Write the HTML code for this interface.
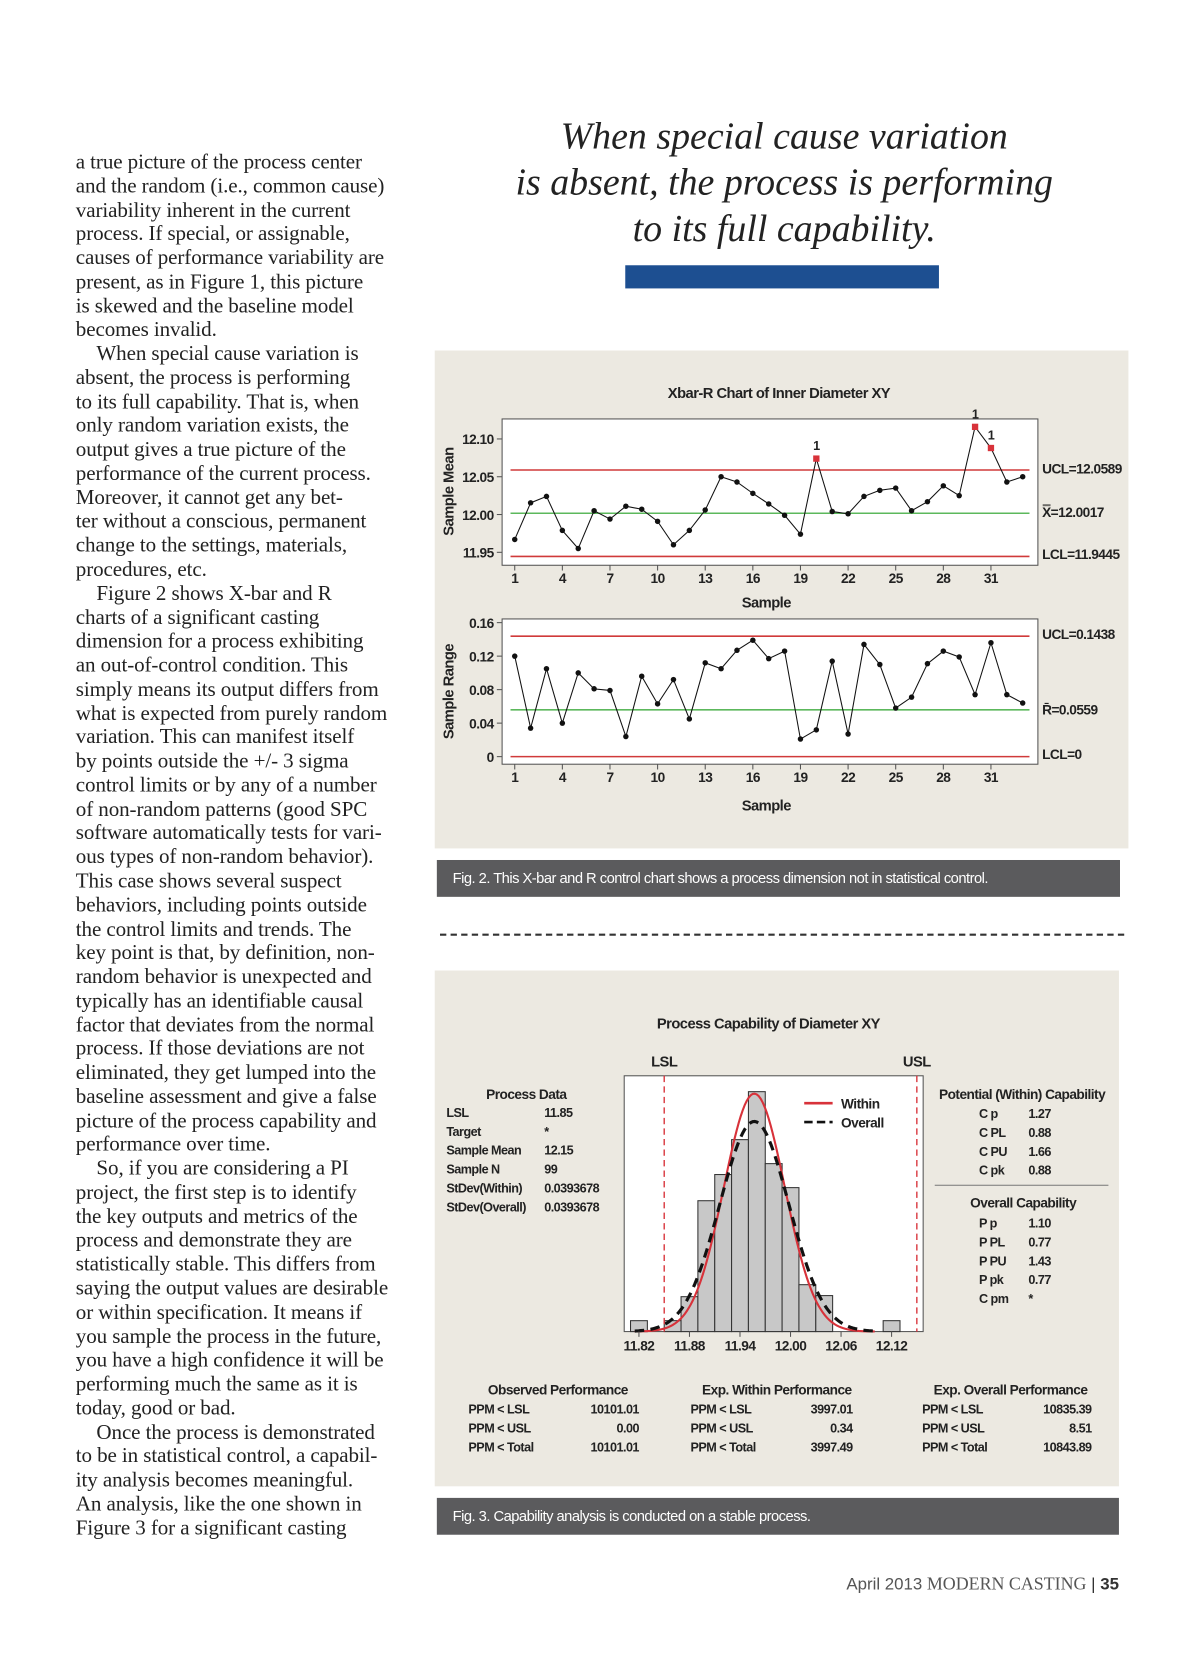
<!DOCTYPE html>
<html><head><meta charset="utf-8">
<style>
html,body{margin:0;padding:0;background:#fff;width:1200px;height:1657px;overflow:hidden}
#page{position:absolute;left:0;top:0;width:1140px;height:1574px;transform:scale(1.05263);transform-origin:0 0;background:#fff}
.col{position:absolute;left:72px;top:143px;font-family:"Liberation Serif",serif;font-size:20px;line-height:22.77px;color:#222;white-space:nowrap;letter-spacing:-0.1px}
.quote{position:absolute;left:450px;width:590px;top:107px;text-align:center;font-family:"Liberation Serif",serif;font-style:italic;font-size:36px;line-height:44px;color:#222}
.cap{position:absolute;background:#5b5b5d;color:#fff;font-family:"Liberation Sans Narrow","Liberation Sans",sans-serif;font-size:14px;letter-spacing:-0.5px;line-height:35px;padding-left:15px;box-sizing:border-box}
svg text{font-family:"Liberation Sans Narrow","Liberation Sans",sans-serif;font-weight:bold;fill:#222;letter-spacing:-0.5px}
</style></head><body>
<div id="page">
<div class="col">
<div>a true picture of the process center</div>
<div>and the random (i.e., common cause)</div>
<div>variability inherent in the current</div>
<div>process. If special, or assignable,</div>
<div>causes of performance variability are</div>
<div>present, as in Figure 1, this picture</div>
<div>is skewed and the baseline model</div>
<div>becomes invalid.</div>
<div>&nbsp;&nbsp;&nbsp;&nbsp;When special cause variation is</div>
<div>absent, the process is performing</div>
<div>to its full capability. That is, when</div>
<div>only random variation exists, the</div>
<div>output gives a true picture of the</div>
<div>performance of the current process.</div>
<div>Moreover, it cannot get any bet-</div>
<div>ter without a conscious, permanent</div>
<div>change to the settings, materials,</div>
<div>procedures, etc.</div>
<div>&nbsp;&nbsp;&nbsp;&nbsp;Figure 2 shows X-bar and R</div>
<div>charts of a significant casting</div>
<div>dimension for a process exhibiting</div>
<div>an out-of-control condition. This</div>
<div>simply means its output differs from</div>
<div>what is expected from purely random</div>
<div>variation. This can manifest itself</div>
<div>by points outside the +/- 3 sigma</div>
<div>control limits or by any of a number</div>
<div>of non-random patterns (good SPC</div>
<div>software automatically tests for vari-</div>
<div>ous types of non-random behavior).</div>
<div>This case shows several suspect</div>
<div>behaviors, including points outside</div>
<div>the control limits and trends. The</div>
<div>key point is that, by definition, non-</div>
<div>random behavior is unexpected and</div>
<div>typically has an identifiable causal</div>
<div>factor that deviates from the normal</div>
<div>process. If those deviations are not</div>
<div>eliminated, they get lumped into the</div>
<div>baseline assessment and give a false</div>
<div>picture of the process capability and</div>
<div>performance over time.</div>
<div>&nbsp;&nbsp;&nbsp;&nbsp;So, if you are considering a PI</div>
<div>project, the first step is to identify</div>
<div>the key outputs and metrics of the</div>
<div>process and demonstrate they are</div>
<div>statistically stable. This differs from</div>
<div>saying the output values are desirable</div>
<div>or within specification. It means if</div>
<div>you sample the process in the future,</div>
<div>you have a high confidence it will be</div>
<div>performing much the same as it is</div>
<div>today, good or bad.</div>
<div>&nbsp;&nbsp;&nbsp;&nbsp;Once the process is demonstrated</div>
<div>to be in statistical control, a capabil-</div>
<div>ity analysis becomes meaningful.</div>
<div>An analysis, like the one shown in</div>
<div>Figure 3 for a significant casting</div>
</div>
<div class="quote">When special cause variation<br>is absent, the process is performing<br>to its full capability.</div>
<div style="position:absolute;left:594px;top:252px;width:298px;height:22px;background:#1d4f91"></div>

<div style="position:absolute;left:413px;top:333px;width:659px;height:473px;background:#ece9e1"></div>
<div class="cap" style="left:415px;top:817px;width:649px;height:35px">Fig. 2. This X-bar and R control chart shows a process dimension not in statistical control.</div>
<div style="position:absolute;left:418px;top:887px;width:650px;border-top:2px dashed #333"></div>
<div style="position:absolute;left:413px;top:922px;width:650px;height:490px;background:#ece9e1"></div>
<div class="cap" style="left:415px;top:1423px;width:648px;height:35px">Fig. 3. Capability analysis is conducted on a stable process.</div>

<div style="position:absolute;right:77px;top:1495px;font-family:'Liberation Sans',sans-serif;font-size:16px;color:#555;white-space:nowrap">April 2013 <span style="font-family:'Liberation Serif',serif;font-size:17px">MODERN CASTING</span> <span style="color:#333">|</span> <b style="color:#333">35</b></div>

<svg id="chart" width="1140" height="1574" style="position:absolute;left:0;top:0"></svg>
</div>
<script>
const samples=[1,2,3,4,5,6,7,8,9,10,11,12,13,14,15,16,17,18,19,20,21,22,23,24,25,26,27,28,29,30,31,32,33];
const xbarValues=[11.967,12.0155,12.024,11.979,11.955,12.005,11.994,12.011,12.007,11.991,11.960,11.979,12.006,12.050,12.043,12.028,12.014,11.999,11.974,12.074,12.004,12.001,12.024,12.032,12.035,12.005,12.017,12.038,12.025,12.116,12.088,12.043,12.050];
const rangeValues=[0.120,0.034,0.105,0.040,0.100,0.081,0.079,0.024,0.096,0.063,0.092,0.045,0.112,0.105,0.127,0.139,0.117,0.126,0.021,0.032,0.114,0.027,0.134,0.110,0.058,0.071,0.111,0.126,0.119,0.074,0.136,0.074,0.064];
const xTicks=[1,4,7,10,13,16,19,22,25,28,31];
const xbarTicks=[11.95,12.00,12.05,12.10];
const rangeTicks=[0,0.04,0.08,0.12,0.16];
const xbarLimits=[12.0589,12.0017,11.9445];
const rangeLimits=[0.1438,0.0559,0];
const histCenters=[11.82,11.86,11.88,11.90,11.92,11.94,11.96,11.98,12.00,12.02,12.04,12.12];
const histCounts=[1,1,3.2,12,14.4,17.6,22,15.4,13.2,4.3,3.3,1];
const histTicks=[11.82,11.88,11.94,12.00,12.06,12.12];
const specLimits=[11.85,12.15];
const curveParams=[11.957,0.0362,0.041];

const S=document.getElementById('chart');const NS='http://www.w3.org/2000/svg';
function el(t,a,txt){const e=document.createElementNS(NS,t);for(const k in a)e.setAttribute(k,a[k]);if(txt!==undefined)e.textContent=txt;S.appendChild(e);return e;}
function tx(x,y,s,size,anchor,name,fill){const e=el('text',{x:x,y:y,'font-size':size,'text-anchor':anchor||'start',fill:fill||'#222'},s);

return e;}
const sx=s=>489+(s-1)*15.08;
const yX=v=>417+(12.10-v)/0.15*107.7;
const yR=v=>718.8-v/0.16*127.3;
function frame(y0,y1,name){const r=el('rect',{x:477,y:y0,width:509,height:y1-y0,fill:'#fff',stroke:'#555','stroke-width':1});

}
tx(740,378,'Xbar-R Chart of Inner Diameter XY',14,'middle','xbar-chart-title');
frame(398,537,'xbar-plot-area');frame(588,726,'range-plot-area');
function hline(y,c,name){const l=el('line',{x1:485,x2:978,y1:y,y2:y,stroke:c,'stroke-width':1.5});

}
hline(yX(xbarLimits[0]),'#d03a3a','xbar-ucl-line');hline(yX(xbarLimits[1]),'#5cb85c','xbar-center-line');hline(yX(xbarLimits[2]),'#d03a3a','xbar-lcl-line');
hline(yR(rangeLimits[0]),'#d03a3a','range-ucl-line');hline(yR(rangeLimits[1]),'#5cb85c','range-center-line');hline(yR(rangeLimits[2]),'#d03a3a','range-lcl-line');
xbarTicks.forEach(v=>{el('line',{x1:472,x2:477,y1:yX(v),y2:yX(v),stroke:'#555'});tx(469,yX(v)+5,v.toFixed(2),13,'end','xbar-y-tick');});
rangeTicks.forEach(v=>{el('line',{x1:472,x2:477,y1:yR(v),y2:yR(v),stroke:'#555'});tx(469,yR(v)+5,v===0?'0':v.toFixed(2),13,'end','range-y-tick');});
xTicks.forEach(s=>{el('line',{x1:sx(s),x2:sx(s),y1:537,y2:542,stroke:'#555'});tx(sx(s),554,String(s),13,'middle','xbar-x-tick');
el('line',{x1:sx(s),x2:sx(s),y1:726,y2:731,stroke:'#555'});tx(sx(s),743,String(s),13,'middle','range-x-tick');});
tx(728,577,'Sample',14,'middle','xbar-x-axis-title');tx(728,770,'Sample',14,'middle','range-x-axis-title');
let t=tx(0,0,'Sample Mean',14,'middle','xbar-y-axis-title');t.setAttribute('transform','translate(431,467) rotate(-90)');
t=tx(0,0,'Sample Range',14,'middle','range-y-axis-title');t.setAttribute('transform','translate(431,657) rotate(-90)');
tx(990,450,'UCL=12.0589',13,'start','xbar-ucl-label');tx(990,491,'X\u033F=12.0017',13,'start','xbar-mean-label');tx(990,531,'LCL=11.9445',13,'start','xbar-lcl-label');
tx(990,607,'UCL=0.1438',13,'start','range-ucl-label');tx(990,679,'R\u0304=0.0559',13,'start','range-mean-label');tx(990,721,'LCL=0',13,'start','range-lcl-label');
function series(vals,yf,name,flag){let d='';vals.forEach((v,i)=>{d+=(i?'L':'M')+sx(samples[i]).toFixed(1)+','+yf(v).toFixed(1);});
const p=el('path',{d:d,fill:'none',stroke:'#111','stroke-width':1});


vals.forEach((v,i)=>{const x=sx(samples[i]),y=yf(v);let m;
if(flag&&(v>xbarLimits[0]||v<xbarLimits[2])){m=el('rect',{x:x-3,y:y-3,width:6,height:6,fill:'#d8323a'});tx(x,y-8,'1',12,'middle','out-of-control-flag');}
else m=el('circle',{cx:x,cy:y,r:2.6,fill:'#111'});

});}
series(xbarValues,yX,'xbar',true);series(rangeValues,yR,'range',false);

const hx=v=>607+(v-11.82)*800;const hy=c=>1265-c*10.36;
tx(730,977,'Process Capability of Diameter XY',14,'middle','capability-title');
let fr=el('rect',{x:593,y:1022,width:284,height:243,fill:'#fff',stroke:'#555'});


histCenters.forEach((c,i)=>{const r=el('rect',{x:hx(c-0.01),y:hy(histCounts[i]),width:800*0.02,height:histCounts[i]*10.36,fill:'#c8c8c8',stroke:'#333','stroke-width':1});

});
function curve(sd,stroke,dash,name){let d='';for(let k=0;k<=120;k++){const v=11.815+k*(0.285/120);const c=99*0.02/(sd*Math.sqrt(2*Math.PI))*Math.exp(-0.5*Math.pow((v-curveParams[0])/sd,2));d+=(k?'L':'M')+hx(v).toFixed(1)+','+hy(c).toFixed(1);}
const p=el('path',{d:d,fill:'none',stroke:stroke,'stroke-width':dash?3:2,'stroke-dasharray':dash||'none'});

}
curve(curveParams[1],'#d8323a',null,'within-curve');curve(curveParams[2],'#111','9,6','overall-curve');
specLimits.forEach((v,i)=>{const l=el('line',{x1:hx(v),x2:hx(v),y1:1022,y2:1265,stroke:'#d8323a','stroke-dasharray':'6,4','stroke-width':1.3});


tx(hx(v),1013,i?'USL':'LSL',14,'middle',i?'usl-label':'lsl-label','#d8323a');});
histTicks.forEach(v=>{el('line',{x1:hx(v),x2:hx(v),y1:1265,y2:1270,stroke:'#555'});tx(hx(v),1283,v.toFixed(2),13,'middle','histogram-x-tick');});
el('line',{x1:764,x2:791,y1:1048,y2:1048,stroke:'#d8323a','stroke-width':2.5});el('line',{x1:764,x2:791,y1:1066,y2:1066,stroke:'#111','stroke-width':2.5,'stroke-dasharray':'8,4'});
tx(799,1053,'Within',13,'start','legend-within');tx(799,1071,'Overall',13,'start','legend-overall');
tx(500,1044,'Process Data',13,'middle','process-data-title');
[['LSL','11.85'],['Target','*'],['Sample Mean','12.15'],['Sample N','99'],['StDev(Within)','0.0393678'],['StDev(Overall)','0.0393678']].forEach((r,i)=>{tx(424,1061+i*18,r[0],12,'start','process-data-label');tx(517,1061+i*18,r[1],12,'start','process-data-value');});
tx(971,1044,'Potential (Within) Capability',13,'middle','within-capability-title');
[['C p','1.27'],['C PL','0.88'],['C PU','1.66'],['C pk','0.88']].forEach((r,i)=>{tx(930,1062+i*18,r[0],12,'start','within-capability-label');tx(977,1062+i*18,r[1],12,'start','within-capability-value');});
el('line',{x1:888,x2:1053,y1:1126,y2:1126,stroke:'#777'});
tx(972,1147,'Overall Capability',13,'middle','overall-capability-title');
[['P p','1.10'],['P PL','0.77'],['P PU','1.43'],['P pk','0.77'],['C pm','*']].forEach((r,i)=>{tx(930,1166+i*18,r[0],12,'start','overall-capability-label');tx(977,1166+i*18,r[1],12,'start','overall-capability-value');});
[[530,445,607,'Observed Performance',['10101.01','0.00','10101.01']],[738,656,810,'Exp. Within Performance',['3997.01','0.34','3997.49']],[960,876,1037,'Exp. Overall Performance',['10835.39','8.51','10843.89']]].forEach(g=>{
tx(g[0],1325,g[3],13,'middle','performance-title');
['PPM < LSL','PPM < USL','PPM < Total'].forEach((l,i)=>{tx(g[1],1343+i*18,l,12,'start','performance-label');tx(g[2],1343+i*18,g[4][i],12,'end','performance-value');});});
</script>
</body></html>
